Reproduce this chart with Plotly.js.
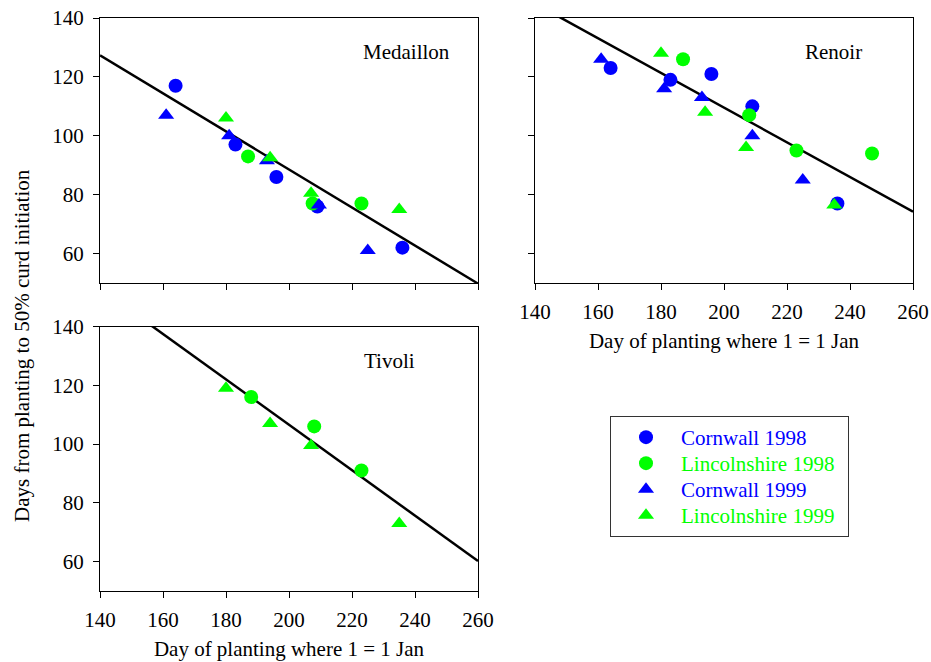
<!DOCTYPE html>
<html>
<head>
<meta charset="utf-8">
<script src="https://cdn.plot.ly/plotly-3.0.1.min.js"></script>
<style>
  html, body { margin: 0; padding: 0; background: #fff; }
  #chart { width: 931px; height: 662px; }
</style>
</head>
<body>
<div id="chart"></div>
<script>
// Day of planting (1 = 1 Jan) and days from planting to 50% curd initiation

// Medaillon
const medCorn98X = [164, 183, 196, 209, 236];
const medCorn98Y = [117, 97, 86, 76, 62];
const medLinc98X = [187, 207.5, 223];
const medLinc98Y = [93, 77, 77];
const medCorn99X = [161, 181, 193, 209.5, 225];
const medCorn99Y = [107, 100, 91.5, 76.5, 61];
const medLinc99X = [180, 194, 207, 235];
const medLinc99Y = [106, 92.5, 80.5, 75];
const medFitX = [140, 260];
const medFitY = [127.3, 49.8];

// Renoir
const renCorn98X = [164, 183, 196, 209, 236];
const renCorn98Y = [123, 119, 121, 110, 77];
const renLinc98X = [187, 208, 223, 247];
const renLinc98Y = [126, 107, 95, 94];
const renCorn99X = [161, 181, 193, 209, 225];
const renCorn99Y = [126, 116, 113, 100, 85];
const renLinc99X = [180, 194, 207, 235];
const renLinc99Y = [128, 108, 96, 76.5];
const renFitX = [140, 260];
const renFitY = [144.9, 74.2];

// Tivoli
const tivLinc98X = [188, 208, 223];
const tivLinc98Y = [116, 106, 91];
const tivLinc99X = [180, 194, 207, 235];
const tivLinc99Y = [119, 107, 99.5, 73];
const tivFitX = [140, 260];
const tivFitY = [152.9, 60.2];

const panelTitles = ['Medaillon', 'Renoir', 'Tivoli'];
const seriesNames = ['Cornwall 1998', 'Lincolnshire 1998', 'Cornwall 1999', 'Lincolnshire 1999'];
const xTitle = 'Day of planting where 1 = 1 Jan';
const yTitle = 'Days from planting to 50% curd initiation';

const BLUE = '#0000ff';
const GREEN = '#00ff00';
const FONT = 'Liberation Serif';
const FS = 21;

function pts(x, y, xa, ya, color, symbol, name, showlegend) {
  return {
    type: 'scatter', mode: 'markers', x: x, y: y, xaxis: xa, yaxis: ya,
    name: '<span style="color:' + color + '">' + name + '</span>',
    showlegend: showlegend,
    marker: { color: color, symbol: symbol, size: 14, line: { width: 0 } },
    hoverinfo: 'x+y'
  };
}
function fit(x, y, xa, ya) {
  return {
    type: 'scatter', mode: 'lines', x: x, y: y, xaxis: xa, yaxis: ya,
    line: { color: '#000', width: 2.5 }, showlegend: false, hoverinfo: 'skip'
  };
}

const data = [
  fit(medFitX, medFitY, 'x', 'y'),
  pts(medCorn98X, medCorn98Y, 'x', 'y', BLUE, 'circle', seriesNames[0], true),
  pts(medLinc98X, medLinc98Y, 'x', 'y', GREEN, 'circle', seriesNames[1], true),
  pts(medCorn99X, medCorn99Y, 'x', 'y', BLUE, 'triangle-up', seriesNames[2], true),
  pts(medLinc99X, medLinc99Y, 'x', 'y', GREEN, 'triangle-up', seriesNames[3], true),

  fit(renFitX, renFitY, 'x2', 'y2'),
  pts(renCorn98X, renCorn98Y, 'x2', 'y2', BLUE, 'circle', seriesNames[0], false),
  pts(renLinc98X, renLinc98Y, 'x2', 'y2', GREEN, 'circle', seriesNames[1], false),
  pts(renCorn99X, renCorn99Y, 'x2', 'y2', BLUE, 'triangle-up', seriesNames[2], false),
  pts(renLinc99X, renLinc99Y, 'x2', 'y2', GREEN, 'triangle-up', seriesNames[3], false),

  fit(tivFitX, tivFitY, 'x3', 'y3'),
  pts(tivLinc98X, tivLinc98Y, 'x3', 'y3', GREEN, 'circle', seriesNames[1], false),
  pts(tivLinc99X, tivLinc99Y, 'x3', 'y3', GREEN, 'triangle-up', seriesNames[3], false)
];

const tickFont = { family: FONT, size: FS, color: '#000' };

function xAxis(domain, anchor, showLabels, withTitle) {
  return {
    domain: domain, anchor: anchor, range: [140, 260],
    tickvals: [140, 160, 180, 200, 220, 240, 260],
    showticklabels: showLabels, ticks: 'outside', ticklen: 6, tickwidth: 1, tickcolor: '#000',
    tickfont: tickFont, ticklabelstandoff: 4, showgrid: false, zeroline: false,
    showline: true, linecolor: '#000', linewidth: 1, mirror: true,
    title: withTitle ? { text: xTitle, font: { family: FONT, size: FS, color: '#000' }, standoff: 10 } : { text: '' },
    fixedrange: true
  };
}
function yAxis(domain, anchor, showLabels) {
  return {
    domain: domain, anchor: anchor, range: [50, 140],
    tickvals: [60, 80, 100, 120, 140],
    showticklabels: showLabels, ticks: 'outside', ticklen: 6, tickwidth: 1, tickcolor: '#000',
    tickfont: tickFont, ticklabelstandoff: 5, showgrid: false, zeroline: false,
    showline: true, linecolor: '#000', linewidth: 1, mirror: true,
    fixedrange: true
  };
}

const W = 931, H = 662;
const colL = [100 / W, 478 / W];
const colR = [535 / W, 913 / W];
const rowT = [1 - 283 / H, 1 - 18 / H];
const rowB = [1 - 591 / H, 1 - 326.5 / H];

const annFont = { family: FONT, size: FS, color: '#000' };

const layout = {
  width: W, height: H,
  margin: { l: 0, r: 0, t: 0, b: 0 },
  paper_bgcolor: '#fff', plot_bgcolor: '#fff',
  font: { family: FONT, size: FS, color: '#000' },
  xaxis: xAxis(colL, 'y', false, false),
  yaxis: yAxis(rowT, 'x', true),
  xaxis2: xAxis(colR, 'y2', true, true),
  yaxis2: yAxis(rowT, 'x2', false),
  xaxis3: xAxis(colL, 'y3', true, true),
  yaxis3: yAxis(rowB, 'x3', true),
  showlegend: true,
  legend: {
    x: 610 / W, y: 1 - 416 / H, xanchor: 'left', yanchor: 'top',
    bgcolor: '#fff', bordercolor: '#333', borderwidth: 1,
    font: { family: FONT, size: FS },
    itemwidth: 60, traceorder: 'normal'
  },
  annotations: [
    { text: panelTitles[0], xref: 'x domain', yref: 'y domain', x: 0.81, y: 0.87, xanchor: 'center', yanchor: 'middle', showarrow: false, font: annFont },
    { text: panelTitles[1], xref: 'x2 domain', yref: 'y2 domain', x: 0.79, y: 0.87, xanchor: 'center', yanchor: 'middle', showarrow: false, font: annFont },
    { text: panelTitles[2], xref: 'x3 domain', yref: 'y3 domain', x: 0.765, y: 0.87, xanchor: 'center', yanchor: 'middle', showarrow: false, font: annFont },
    { text: yTitle, xref: 'paper', yref: 'paper', x: 22 / W, y: 1 - 346 / H, xanchor: 'center', yanchor: 'middle', textangle: -90, showarrow: false, font: annFont }
  ]
};

// Tighter legend rows and a slightly wider box than Plotly's defaults
const LEGEND_ROW = 26, LEGEND_W = 238, LEGEND_H = 120;

Plotly.newPlot('chart', data, layout, { displayModeBar: false, staticPlot: true }).then(function (gd) {
  const entries = gd.querySelectorAll('.legend .traces');
  let y0 = null;
  entries.forEach(function (g, i) {
    const m = /translate\(\s*([-\d.]+)[ ,]+([-\d.]+)\s*\)/.exec(g.getAttribute('transform') || '');
    if (!m) return;
    if (y0 === null) y0 = parseFloat(m[2]);
    g.setAttribute('transform', 'translate(' + m[1] + ',' + (y0 + i * LEGEND_ROW) + ')');
  });
  const bg = gd.querySelector('.legend rect.bg');
  if (bg) { bg.setAttribute('height', LEGEND_H); bg.setAttribute('width', LEGEND_W); }
  gd.querySelectorAll('.legend clipPath rect, defs [id*="legend"] rect').forEach(function (r) {
    r.setAttribute('height', LEGEND_H); r.setAttribute('width', LEGEND_W);
  });
});
</script>
</body>
</html>
